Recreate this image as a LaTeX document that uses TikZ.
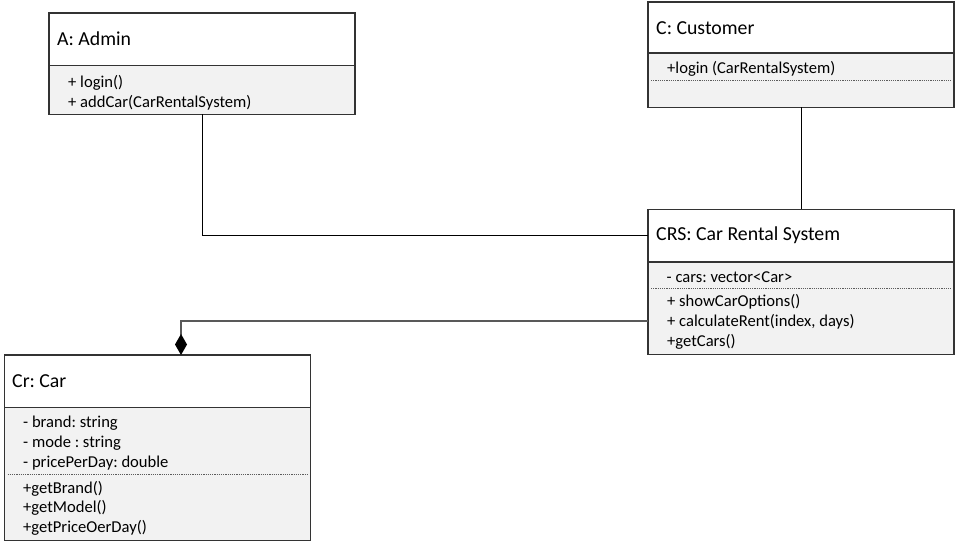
\documentclass[tikz,border=0pt]{standalone}
\usepackage{fontspec}
\setmainfont{Carlito}
\usetikzlibrary{arrows.meta}
\definecolor{bodyfill}{HTML}{F2F2F2}
\definecolor{edge}{HTML}{333333}
\tikzset{
  box/.style={draw=edge, line width=1.1pt, inner sep=0pt, outer sep=0pt, fill=white},
  bodybox/.style={box, fill=bodyfill},
  ttl/.style={anchor=west, inner sep=0pt, font=\fontsize{19.8}{23}\selectfont},
  itm/.style={anchor=west, inner sep=0pt, yshift=-1.5pt, font=\fontsize{16.6}{20}\selectfont},
  sep/.style={draw=edge!80, line width=0.8pt, dash pattern=on 1.2pt off 1pt},
  link/.style={draw=black, line width=1pt},
  comp/.style={draw=black!65, line width=1.1pt},
}
\begin{document}
\frenchspacing
\begin{tikzpicture}[x=1pt,y=-1pt]
\useasboundingbox (0,0) rectangle (956,545);

% Admin
\node[box, minimum width=306pt, minimum height=52.5pt] (adminT) at (202,39.25) {};
\node[bodybox, minimum width=306pt, minimum height=49pt] (adminB) at (202,90) {};
\node[ttl] (adminTt) at (57,39) {A: Admin};
\node[itm] (adminL1) at (68,81) {+ login()};
\node[itm] (adminL2) at (68,101) {+ addCar(CarRentalSystem)};

% Customer
\node[box, minimum width=306pt, minimum height=51pt] (custT) at (801,27.5) {};
\node[bodybox, minimum width=306pt, minimum height=54.5pt] (custB) at (801,80.25) {};
\node[ttl] (custTt) at (656,28) {C: Customer};
\node[itm] (custL1) at (667,67.5) {+login (CarRentalSystem)};
\coordinate (custS1) at (651,80);
\coordinate (custS2) at (951,80);
\draw[sep] (custS1) -- (custS2);

% CRS
\node[box, minimum width=306pt, minimum height=52.5pt] (crsT) at (801,235.75) {};
\node[bodybox, minimum width=306pt, minimum height=92.5pt] (crsB) at (801,308.25) {};
\node[ttl] (crsTt) at (656,235.5) {CRS: Car Rental System};
\node[itm] (crsL1) at (666.5,276) {- cars: vector<Car>};
\coordinate (crsS1) at (651,288);
\coordinate (crsS2) at (951,288);
\draw[sep] (crsS1) -- (crsS2);
\node[itm] (crsL2) at (667,300) {+ showCarOptions()};
\node[itm] (crsL3) at (667,320.5) {+ calculateRent(index, days)};
\node[itm] (crsL4) at (667,340.5) {+getCars()};

% Car
\node[box, minimum width=306pt, minimum height=52.5pt] (carT) at (157.5,381.25) {};
\node[bodybox, minimum width=306pt, minimum height=133pt] (carB) at (157.5,474) {};
\node[ttl] (carTt) at (12,381.5) {Cr: Car};
\node[itm] (carL1) at (23,422) {- brand: string};
\node[itm] (carL2) at (23,441.5) {- mode : string};
\node[itm] (carL3) at (23,461.5) {- pricePerDay: double};
\coordinate (carS1) at (7.5,474);
\coordinate (carS2) at (307.5,474);
\draw[sep] (carS1) -- (carS2);
\node[itm] (carL4) at (23,487) {+getBrand()};
\node[itm] (carL5) at (23,506.5) {+getModel()};
\node[itm] (carL6) at (23,526) {+getPriceOerDay()};

% Connectors
\draw[link] (adminB.south) |- (crsT.west);
\draw[link] (custB.south) -- (crsT.north);
\coordinate (crsP) at (crsB.west |- 0,321);
\coordinate (carTip) at (181,355);
\draw[comp, -{Diamond[length=21pt,width=12pt,color=black,fill=black]}] (crsP) -| (carTip);
\end{tikzpicture}
\end{document}
